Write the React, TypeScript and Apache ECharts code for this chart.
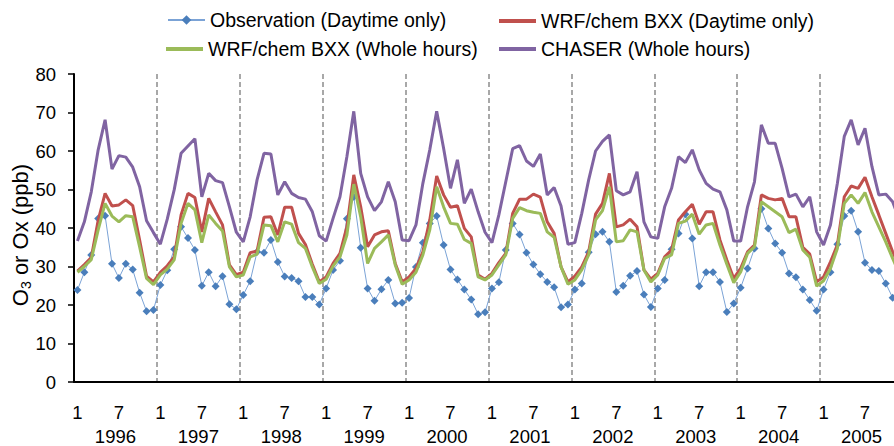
import React, { useEffect, useRef } from "react";
import * as echarts from "echarts";

const years = ["1996", "1997", "1998", "1999", "2000", "2001", "2002", "2003", "2004", "2005"];
const months = ["1", "2", "3", "4", "5", "6", "7", "8", "9", "10", "11", "12"];
const categories = years.flatMap((y) => months.map((m) => `${y}-${m}`));

const seriesNames = [
  "Observation (Daytime only)",
  "WRF/chem BXX (Daytime only)",
  "WRF/chem BXX (Whole hours)",
  "CHASER (Whole hours)",
];

const observation = [
  23.9, 28.5, 33.0, 42.5, 43.2, 30.7, 27.0, 30.7, 29.2, 23.2, 18.4, 18.7,
  25.2, 29.0, 34.5, 40.3, 37.4, 34.3, 25.0, 28.5, 24.9, 27.5, 20.2, 18.9,
  22.6, 26.2, 33.8, 33.6, 36.9, 31.2, 27.4, 27.0, 26.2, 22.1, 22.1, 20.1,
  24.3, 29.1, 31.5, 42.4, 48.1, 34.9, 24.3, 21.1, 24.1, 26.5, 20.4, 20.6,
  21.8, 29.9, 36.2, 41.2, 43.1, 35.6, 29.2, 26.6, 24.0, 21.4, 17.6, 18.1,
  24.3, 25.9, 34.3, 41.2, 38.3, 33.6, 30.5, 28.0, 26.0, 24.6, 19.4, 20.1,
  24.0, 25.6, 33.7, 38.4, 39.0, 36.4, 23.4, 25.0, 27.6, 28.8, 22.7, 19.5,
  24.3, 26.5, 34.5, 38.6, 43.6, 37.3, 24.9, 28.5, 28.5, 26.0, 18.2, 20.4,
  24.5, 29.5, 34.7, 45.0, 39.9, 36.0, 33.6, 28.2, 27.2, 24.0, 21.3, 18.5,
  24.0, 28.5, 35.8, 43.1, 44.5, 39.0, 31.0, 29.1, 28.8, 25.6, 21.9, 20.5,
];

const wrfDaytime = [
  28.8, 30.5, 32.3, 42.0, 49.0, 45.7, 46.0, 47.3, 45.8, 36.9, 27.5, 26.0,
  28.5, 30.2, 32.5, 43.4, 49.0, 47.9, 39.0, 47.7, 44.2, 40.8, 30.4, 27.9,
  28.5, 33.6, 34.0, 42.8, 42.9, 38.2, 45.4, 45.4, 38.6, 35.7, 30.6, 26.0,
  27.3, 30.8, 33.4, 40.3, 53.8, 45.5, 35.1, 38.2, 39.0, 39.3, 30.8, 26.0,
  27.3, 29.5, 33.8, 42.1, 53.5, 48.6, 45.4, 45.8, 39.9, 37.7, 27.8, 26.7,
  28.2, 31.0, 33.4, 43.8, 47.5, 47.5, 48.8, 48.0, 41.6, 38.6, 29.9, 26.0,
  27.5, 29.9, 33.8, 43.6, 46.4, 54.2, 40.3, 40.8, 42.3, 40.3, 29.1, 26.7,
  28.2, 32.5, 34.3, 42.1, 44.2, 46.2, 41.0, 44.2, 44.2, 36.9, 31.7, 26.9,
  29.5, 33.8, 35.6, 48.6, 47.7, 47.3, 47.7, 42.9, 42.9, 35.0, 33.2, 26.0,
  27.3, 31.2, 35.6, 48.1, 50.9, 50.3, 53.2, 48.1, 43.4, 38.6, 33.8, 30.0,
];

const wrfWhole = [
  28.5, 30.0, 31.8, 39.5, 46.4, 43.1, 41.6, 43.2, 42.9, 35.1, 26.9, 25.3,
  27.8, 29.3, 31.7, 41.2, 46.4, 44.7, 36.2, 43.4, 41.2, 39.2, 29.9, 27.3,
  27.8, 32.5, 33.2, 40.8, 40.6, 36.4, 41.6, 41.0, 36.2, 34.7, 29.9, 25.6,
  26.7, 30.1, 32.5, 38.2, 51.4, 42.9, 30.8, 34.7, 36.4, 38.2, 30.4, 25.4,
  26.5, 28.5, 33.0, 39.5, 50.7, 45.5, 41.2, 41.0, 37.0, 36.0, 27.3, 26.5,
  27.8, 30.4, 33.0, 42.5, 45.3, 44.5, 44.1, 43.8, 39.0, 37.6, 29.9, 25.4,
  26.5, 29.1, 33.0, 42.1, 44.5, 50.7, 36.4, 36.7, 39.5, 39.0, 29.1, 26.0,
  27.8, 32.1, 33.0, 41.2, 41.8, 43.6, 38.4, 40.8, 41.2, 35.6, 30.6, 25.8,
  28.6, 33.4, 35.1, 46.8, 45.5, 44.2, 42.9, 38.8, 39.7, 34.3, 32.4, 24.9,
  26.3, 29.5, 34.7, 46.4, 48.6, 46.4, 49.2, 44.2, 40.3, 36.4, 32.1, 28.0,
];

const chaser = [
  36.6, 41.6, 49.4, 60.3, 68.1, 55.3, 58.8, 58.4, 55.8, 50.7, 41.9, 38.8,
  35.8, 42.3, 49.9, 59.4, 61.3, 63.2, 48.1, 54.2, 52.3, 51.8, 45.5, 38.9,
  36.4, 42.9, 52.5, 59.4, 59.2, 48.6, 52.0, 49.0, 47.9, 47.5, 44.2, 38.0,
  36.6, 42.5, 48.1, 58.5, 70.3, 54.2, 48.1, 44.5, 46.8, 52.0, 46.8, 36.9,
  36.7, 40.8, 51.6, 60.3, 70.3, 60.7, 50.3, 57.7, 46.4, 50.1, 44.2, 38.9,
  36.2, 43.4, 52.0, 60.6, 61.4, 57.4, 56.0, 59.2, 48.6, 50.5, 45.7, 35.8,
  36.2, 43.8, 52.5, 60.0, 62.5, 64.2, 49.7, 48.6, 49.4, 54.6, 41.6, 37.7,
  37.3, 45.5, 50.3, 58.5, 57.0, 60.3, 55.1, 51.6, 50.1, 49.4, 44.7, 36.6,
  36.6, 45.5, 52.0, 66.8, 62.0, 62.0, 55.5, 48.1, 48.8, 45.5, 48.1, 39.0,
  35.6, 40.8, 51.6, 63.8, 68.1, 61.6, 65.9, 56.0, 48.6, 48.8, 46.8, 42.0,
];

const FONT = "'Liberation Sans', Arial, sans-serif";

export default function App() {
  const ref = useRef<HTMLDivElement>(null);

  useEffect(() => {
    if (!ref.current) return;
    const chart = echarts.init(ref.current, undefined, { renderer: "svg" });

    const legendBase = {
      orient: "horizontal",
      padding: 0,
      itemWidth: 37,
      selectedMode: false,
      textStyle: { fontFamily: FONT, fontSize: 19.5, color: "#000" },
    };

    chart.setOption({
      animation: false,
      backgroundColor: "#fff",
      textStyle: { fontFamily: FONT },
      grid: {
        left: 74,
        top: 74,
        width: 829,
        height: 308,
        containLabel: false,
        outerBoundsMode: "none",
      },
      legend: [
        { ...legendBase, itemHeight: 12, data: [seriesNames[0]], left: 167, top: 10 },
        { ...legendBase, itemHeight: 4, data: [{ name: seriesNames[1], icon: "rect" }], left: 499, top: 11 },
        { ...legendBase, itemHeight: 4, data: [{ name: seriesNames[2], icon: "rect" }], left: 166, top: 39 },
        { ...legendBase, itemHeight: 4, data: [{ name: seriesNames[3], icon: "rect" }], left: 499, top: 39 },
      ],
      xAxis: [
        {
          type: "category",
          data: categories,
          boundaryGap: true,
          position: "bottom",
          axisLine: { lineStyle: { color: "#000", width: 2 } },
          axisTick: { interval: 5, length: 6, lineStyle: { color: "#000", width: 1.5 } },
          axisLabel: {
            interval: 5,
            margin: 21,
            fontSize: 18.5,
            color: "#000",
            fontFamily: FONT,
            formatter: (v: string) => v.split("-")[1],
          },
          splitLine: {
            show: true,
            interval: 11,
            lineStyle: { type: [5, 3], color: "#8c8c8c", width: 1.5 },
          },
        },
        {
          type: "category",
          data: years,
          boundaryGap: true,
          position: "bottom",
          axisLine: { show: false },
          axisTick: { show: false },
          axisLabel: { interval: 0, margin: 45, fontSize: 18.5, color: "#000", fontFamily: FONT },
          splitLine: { show: false },
        },
      ],
      yAxis: {
        type: "value",
        min: 0,
        max: 80,
        interval: 10,
        axisLine: { show: true, lineStyle: { color: "#000", width: 2 } },
        axisTick: { show: true, length: 6, lineStyle: { color: "#000", width: 1.5 } },
        axisLabel: { margin: 18, fontSize: 18.5, color: "#000", fontFamily: FONT },
        splitLine: { show: false },
        name: "{a|O}{b|3}{a| or Ox (ppb)}",
        nameLocation: "middle",
        nameGap: 41,
        nameMoveOverlap: false,
        nameRotate: 90,
        nameTextStyle: {
          padding: [0, 14, 0, 0],
          rich: {
            a: { fontSize: 22, fontFamily: FONT, color: "#000", lineHeight: 26 },
            b: { fontSize: 14, fontFamily: FONT, color: "#000", verticalAlign: "bottom", lineHeight: 16 },
          },
        },
      },
      series: [
        {
          name: seriesNames[0],
          type: "line",
          data: observation,
          xAxisIndex: 0,
          symbol: "diamond",
          symbolSize: 8,
          showSymbol: true,
          showAllSymbol: true,
          itemStyle: { color: "#4a7ebb" },
          lineStyle: { color: "#7ba3d6", width: 1 },
          z: 2,
        },
        {
          name: seriesNames[1],
          type: "line",
          data: wrfDaytime,
          xAxisIndex: 0,
          symbol: "none",
          itemStyle: { color: "#c0504d" },
          lineStyle: { color: "#c0504d", width: 3 },
          z: 3,
        },
        {
          name: seriesNames[2],
          type: "line",
          data: wrfWhole,
          xAxisIndex: 0,
          symbol: "none",
          itemStyle: { color: "#9bbb59" },
          lineStyle: { color: "#9bbb59", width: 3 },
          z: 4,
        },
        {
          name: seriesNames[3],
          type: "line",
          data: chaser,
          xAxisIndex: 0,
          symbol: "none",
          itemStyle: { color: "#8064a2" },
          lineStyle: { color: "#8064a2", width: 3 },
          z: 5,
        },
      ],
    });

    return () => chart.dispose();
  }, []);

  return (
    <div
      ref={ref}
      style={{ position: "fixed", left: 0, top: 0, width: 912, height: 446, background: "#fff" }}
    />
  );
}
